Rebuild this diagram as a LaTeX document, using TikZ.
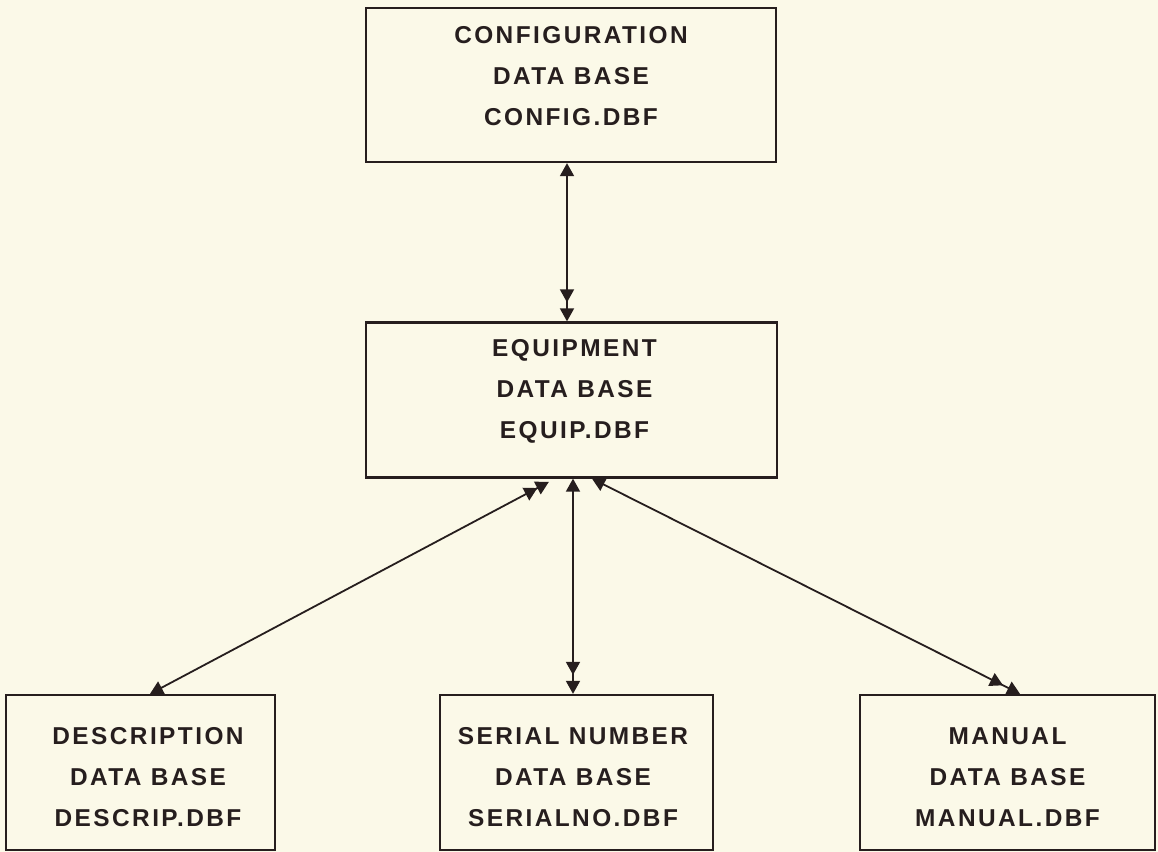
\documentclass[tikz,border=0pt]{standalone}
\usepackage{fontspec}
\setmainfont{Liberation Sans}[LetterSpace=10]
\usetikzlibrary{arrows.meta}
\definecolor{paper}{RGB}{251,249,232}
\definecolor{ink}{RGB}{38,30,30}

\tikzset{
  dbbox/.style={draw=ink, line width=1.15pt, rectangle, inner sep=0pt},
  dbtext/.style={text=ink, font=\bfseries\fontsize{12.2}{20.5}\selectfont,
                 align=center, inner sep=0pt},
  link/.style={draw=ink, line width=0.9pt},
  % one arrowhead at the start, two stacked at the end
  onetwo/.style={link,
    {Triangle[length=6.5pt,width=7pt]}-{Triangle[length=6.5pt,width=7pt,sep=3pt]Triangle[length=6.5pt,width=7pt]}},
  % two stacked at the start, one at the end
  twoone/.style={link,
    {Triangle[length=6.5pt,width=7pt,sep=3.5pt]Triangle[length=6.5pt,width=7pt]}-{Triangle[length=6.5pt,width=7pt]}}
}

\begin{document}
\begin{tikzpicture}[x=0.5pt,y=-0.5pt]
  \useasboundingbox[fill=paper] (0,0) rectangle (1158,852);

  % data base boxes
  \node[dbbox, minimum width=205pt,  minimum height=77pt]   (config)  at (571,85)      {};
  \node[dbbox, minimum width=205.5pt,minimum height=77.5pt] (equip)   at (571.5,400)   {};
  \node[dbbox, minimum width=134.5pt, minimum height=77.5pt] (descrip) at (140.5,772.5) {};
  \node[dbbox, minimum width=136.5pt, minimum height=77.5pt] (serial)  at (576.5,772.5) {};
  \node[dbbox, minimum width=147.5pt, minimum height=77.5pt] (manual)  at (1007.5,772.5) {};

  % box captions
  \node[dbtext] (configtxt)  at ([yshift=4.5pt]config.center)                  {CONFIGURATION\\DATA BASE\\CONFIG.DBF};
  \node[dbtext] (equiptxt)   at ([xshift=1.5pt,yshift=4.5pt]equip.center)      {EQUIPMENT\\DATA BASE\\EQUIP.DBF};
  \node[dbtext] (descriptxt) at ([xshift=3.75pt,yshift=-2.25pt]descrip.center) {DESCRIPTION\\DATA BASE\\DESCRIP.DBF};
  \node[dbtext] (serialtxt)  at ([xshift=-1.75pt,yshift=-2.25pt]serial.center) {SERIAL NUMBER\\DATA BASE\\SERIALNO.DBF};
  \node[dbtext] (manualtxt)  at ([yshift=-2.25pt]manual.center)                {MANUAL\\DATA BASE\\MANUAL.DBF};

  % relations
  \draw[onetwo] ([xshift=-2.25pt]equip.north |- config.south) -- ([xshift=-2.25pt]equip.north);
  \draw[twoone] ([xshift=-8.25pt]equip.south) -- ([xshift=4.75pt]descrip.north);
  \draw[onetwo] ([xshift=0.75pt]equip.south)  -- ([xshift=-1.75pt]serial.north);
  \draw[onetwo] ([xshift=10.25pt]equip.south) -- ([xshift=6.25pt]manual.north);
\end{tikzpicture}
\end{document}
